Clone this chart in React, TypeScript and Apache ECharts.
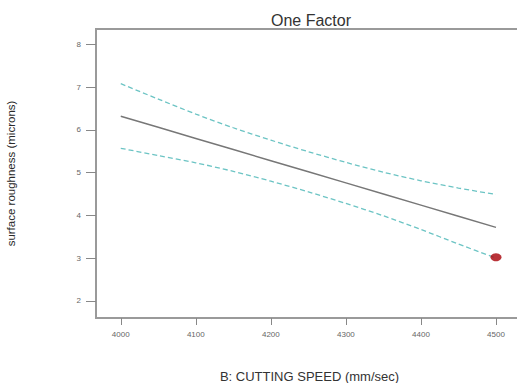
import React, { useEffect, useRef } from "react";
import * as echarts from "echarts";

const speeds = [4000, 4050, 4100, 4150, 4200, 4250, 4300, 4350, 4400, 4450, 4500];
const meanValues = [6.32, 6.06, 5.8, 5.54, 5.28, 5.02, 4.76, 4.5, 4.24, 3.98, 3.72];
const upperValues = [7.08, 6.72, 6.37, 6.05, 5.76, 5.49, 5.24, 5.01, 4.81, 4.64, 4.49];
const lowerValues = [5.57, 5.4, 5.23, 5.03, 4.8, 4.55, 4.28, 3.99, 3.67, 3.33, 3.0];
const designPoint = [[4500, 3.02]];
const xTicks = [4000, 4100, 4200, 4300, 4400, 4500];
const yTicks = [2, 3, 4, 5, 6, 7, 8];

export default function App() {
  const ref = useRef<HTMLDivElement>(null);
  useEffect(() => {
    if (!ref.current) return;
    const chart = echarts.init(ref.current, null, { renderer: "svg" });
    const pair = (vals: number[]) => speeds.map((s, i) => [s, vals[i]]);
    const font = "Arial, 'Liberation Sans', sans-serif";
    chart.setOption({
      animation: false,
      backgroundColor: "#ffffff",
      title: {
        text: "One Factor",
        left: 306,
        top: 7,
        textAlign: "center",
        textStyle: { fontFamily: font, fontSize: 16, fontWeight: "normal", color: "#333" },
      },
      grid: {
        left: 96,
        top: 29,
        right: -6,
        bottom: 65,
        outerBoundsMode: "none",
        containLabel: false,
        show: true,
        borderColor: "#9a9a9a",
        borderWidth: 2,
        backgroundColor: "transparent",
      },
      xAxis: {
        type: "value",
        min: 3967,
        max: 4536,
        name: "B: CUTTING SPEED (mm/sec)",
        nameLocation: "middle",
        nameGap: 52,
        nameTextStyle: { fontFamily: font, fontSize: 13, color: "#333" },
        axisLine: { show: false },
        splitLine: { show: false },
        axisTick: {
          show: true,
          length: 7,
          customValues: xTicks,
          lineStyle: { color: "#888", width: 1 },
        },
        axisLabel: {
          customValues: xTicks,
          formatter: (v: number) => String(v),
          fontFamily: font,
          fontSize: 8,
          color: "#666",
          margin: 12,
        },
      },
      yAxis: {
        type: "value",
        min: 1.6,
        max: 8.36,
        name: "surface roughness (microns)",
        nameLocation: "middle",
        nameGap: 79,
        nameRotate: 90,
        nameTextStyle: { fontFamily: font, fontSize: 11.5, color: "#2a2a2a" },
        axisLine: { show: false },
        splitLine: { show: false },
        axisTick: {
          show: true,
          length: 10,
          customValues: yTicks,
          lineStyle: { color: "#888", width: 1 },
        },
        axisLabel: {
          customValues: yTicks,
          fontFamily: font,
          fontSize: 8,
          color: "#666",
          margin: 15,
        },
      },
      series: [
        {
          type: "line",
          data: pair(upperValues),
          smooth: 0.3,
          symbol: "none",
          lineStyle: { color: "#6cc4c4", width: 1.3, type: [5, 3] },
        },
        {
          type: "line",
          data: pair(lowerValues),
          smooth: 0.3,
          symbol: "none",
          lineStyle: { color: "#6cc4c4", width: 1.3, type: [5, 3] },
        },
        {
          type: "line",
          data: pair(meanValues),
          symbol: "none",
          lineStyle: { color: "#777", width: 1.5 },
        },
        {
          type: "scatter",
          data: designPoint,
          symbol: "circle",
          symbolSize: [11, 8],
          z: 5,
          itemStyle: { color: "#a80008" },
        },
      ],
    });
    return () => chart.dispose();
  }, []);
  return (
    <div
      ref={ref}
      style={{ position: "absolute", left: 0, top: 0, width: 517, height: 383 }}
    />
  );
}
